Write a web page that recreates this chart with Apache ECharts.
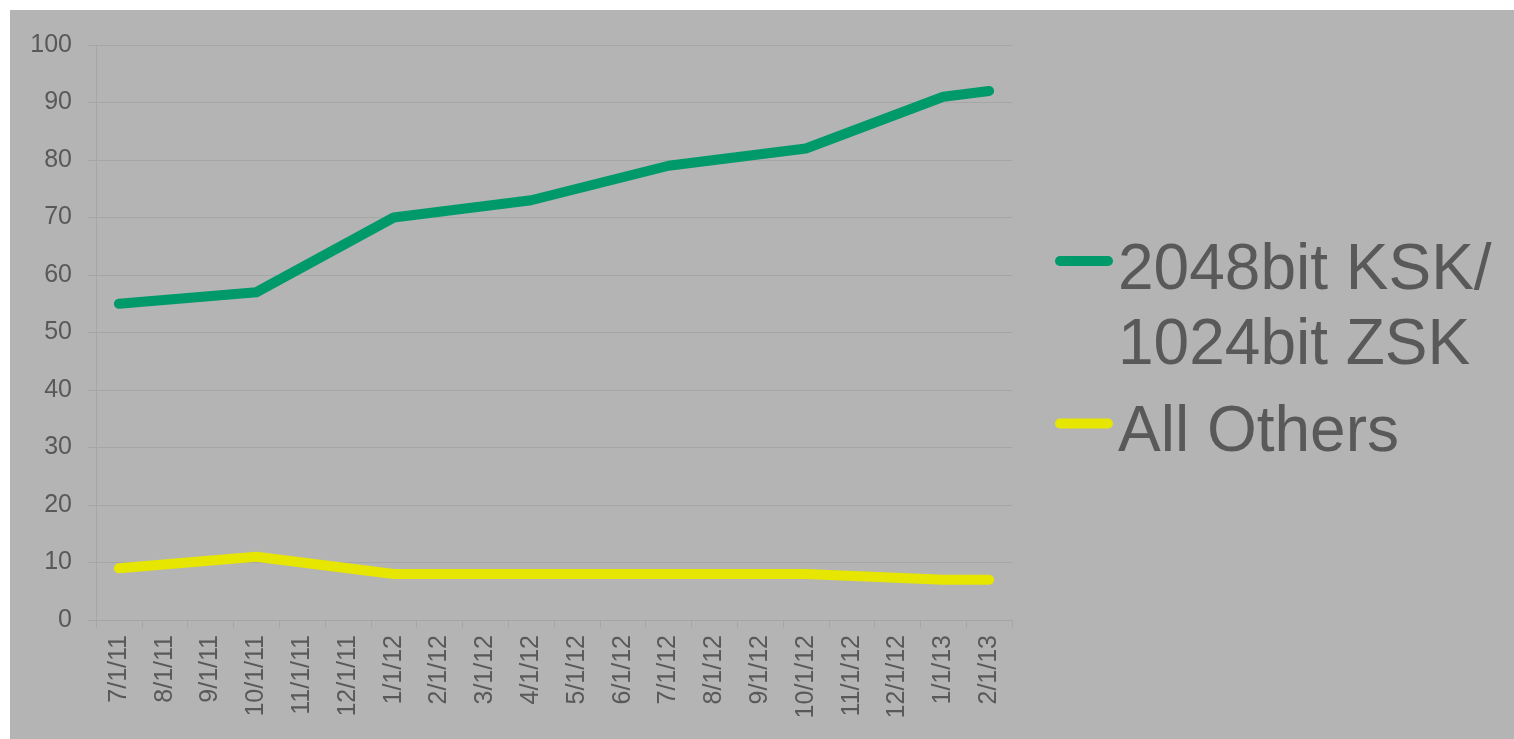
<!DOCTYPE html>
<html>
<head>
<meta charset="utf-8">
<title>DNSSEC key sizes</title>
<script src="https://cdn.jsdelivr.net/npm/echarts@6/dist/echarts.min.js"></script>
<style>
  html, body { margin: 0; padding: 0; background: #ffffff; overflow: hidden; width: 100%; height: 100%; }
  #chart { position: absolute; left: 10px; top: 10px; width: 1510px; height: 735px; }
</style>
</head>
<body>
<div id="chart"></div>
<script>
// Monthly categories; values were sampled quarterly, gaps are joined.
const months = ['7/1/11', '8/1/11', '9/1/11', '10/1/11', '11/1/11', '12/1/11',
  '1/1/12', '2/1/12', '3/1/12', '4/1/12', '5/1/12', '6/1/12',
  '7/1/12', '8/1/12', '9/1/12', '10/1/12', '11/1/12', '12/1/12',
  '1/1/13', '2/1/13'];

const ksk2048 = [55, null, null, 57, null, null, 70, null, null, 73, null, null,
  79, null, null, 82, null, null, 91, 92];

const allOthers = [9, null, null, 11, null, null, 8, null, null, 8, null, null,
  8, null, null, 8, null, null, 7, 7];

const yTicks = { min: 0, max: 100, step: 10 };

const seriesNames = ['2048bit KSK/ 1024bit ZSK', 'All Others'];

const FONT = '"Liberation Sans", Arial, sans-serif';
const TEXT = '#595959';
const GRID = '#a6a6a6';

const chart = echarts.init(document.getElementById('chart'));

const barIcon = 'path://M5,0 L53,0 A5,5 0 0 1 53,10 L5,10 A5,5 0 0 1 5,0 Z';

chart.setOption({
  animation: false,
  backgroundColor: '#b4b4b4',
  textStyle: { fontFamily: FONT },
  grid: { left: 86, top: 35, width: 916, height: 575, containLabel: false },
  legend: {
    orient: 'vertical',
    left: 1045,
    top: 171,
    padding: 0,
    itemGap: 3,
    itemWidth: 58,
    itemHeight: 10,
    selectedMode: false,
    data: [
      { name: seriesNames[0], icon: barIcon },
      { name: seriesNames[1], icon: barIcon }
    ],
    formatter: function (name) {
      // spacer line on top sets where the swatch sits against the text
      if (name === seriesNames[0]) {
        return '{big| }\n{t|2048bit KSK/}\n{t|1024bit ZSK}';
      }
      return '{small| }\n{t|' + name + '}';
    },
    textStyle: {
      fontFamily: FONT, fontSize: 64, color: TEXT,
      rich: {
        t: { fontFamily: FONT, fontSize: 64, lineHeight: 75, color: TEXT },
        big: { fontSize: 10, lineHeight: 95 },
        small: { fontSize: 10, lineHeight: 20 }
      }
    }
  },
  xAxis: {
    type: 'category',
    data: months,
    boundaryGap: true,
    axisLine: { show: true, lineStyle: { color: GRID, width: 1 } },
    axisTick: { show: true, length: 8, interval: 0, alignWithLabel: false, lineStyle: { color: GRID } },
    axisLabel: { interval: 0, rotate: 90, margin: 15, fontSize: 25, color: TEXT, fontFamily: FONT },
    splitLine: { show: false }
  },
  yAxis: {
    type: 'value',
    min: yTicks.min,
    max: yTicks.max,
    interval: yTicks.step,
    axisLine: { show: true, lineStyle: { color: GRID, width: 1 } },
    axisTick: { show: true, length: 8, lineStyle: { color: GRID } },
    axisLabel: { margin: 24, fontSize: 25, color: TEXT, fontFamily: FONT },
    splitLine: { show: true, lineStyle: { color: GRID, width: 1 } }
  },
  series: [
    {
      name: seriesNames[0],
      type: 'line',
      data: ksk2048,
      connectNulls: true,
      symbol: 'none',
      color: '#009a6a',
      lineStyle: { width: 10, cap: 'round', join: 'round', color: '#009a6a' }
    },
    {
      name: seriesNames[1],
      type: 'line',
      data: allOthers,
      connectNulls: true,
      symbol: 'none',
      color: '#e6e600',
      lineStyle: { width: 10, cap: 'round', join: 'round', color: '#e6e600' }
    }
  ]
});
</script>
</body>
</html>
